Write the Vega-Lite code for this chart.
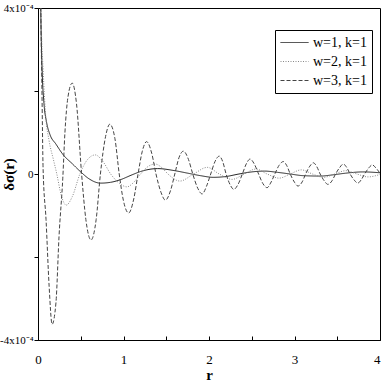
{
  "$schema": "https://vega.github.io/schema/vega-lite/v6.json",
  "width": 342,
  "height": 332,
  "autosize": {"type": "none"},
  "padding": {"left": 38, "top": 8, "right": 2, "bottom": 42},
  "background": "white",
  "config": {
    "view": {"stroke": "black", "strokeWidth": 1},
    "font": "Liberation Serif",
    "axis": {"grid": false, "domainColor": "black", "tickColor": "black", "labelColor": "black", "titleColor": "black", "labelFont": "Liberation Serif", "titleFont": "Liberation Serif"}
  },
  "data": {"values": [
    {"r":0,"v":12e-4,"s":"w=1, k=1"},{"r":0.02,"v":6e-4,"s":"w=1, k=1"},{"r":0.035,"v":3.6e-4,"s":"w=1, k=1"},{"r":0.05,"v":2.4e-4,"s":"w=1, k=1"},{"r":0.07,"v":1.7e-4,"s":"w=1, k=1"},{"r":0.1,"v":1.25e-4,"s":"w=1, k=1"},{"r":0.14,"v":0.95e-4,"s":"w=1, k=1"},{"r":0.21,"v":0.72e-4,"s":"w=1, k=1"},{"r":0.3,"v":0.45e-4,"s":"w=1, k=1"},{"r":0.4,"v":0.25e-4,"s":"w=1, k=1"},{"r":0.5,"v":0.05e-4,"s":"w=1, k=1"},{"r":0.6,"v":-0.12e-4,"s":"w=1, k=1"},{"r":0.73,"v":-0.22e-4,"s":"w=1, k=1"},{"r":0.85,"v":-0.2e-4,"s":"w=1, k=1"},{"r":0.96,"v":-0.14e-4,"s":"w=1, k=1"},{"r":1.1,"v":-0.02e-4,"s":"w=1, k=1"},{"r":1.2,"v":0.06e-4,"s":"w=1, k=1"},{"r":1.4,"v":0.13e-4,"s":"w=1, k=1"},{"r":1.6,"v":0.08e-4,"s":"w=1, k=1"},{"r":1.75,"v":0.02e-4,"s":"w=1, k=1"},{"r":1.9,"v":-0.04e-4,"s":"w=1, k=1"},{"r":2.05,"v":-0.08e-4,"s":"w=1, k=1"},{"r":2.2,"v":-0.06e-4,"s":"w=1, k=1"},{"r":2.35,"v":0,"s":"w=1, k=1"},{"r":2.5,"v":0.05e-4,"s":"w=1, k=1"},{"r":2.65,"v":0.07e-4,"s":"w=1, k=1"},{"r":2.8,"v":0.04e-4,"s":"w=1, k=1"},{"r":2.95,"v":0,"s":"w=1, k=1"},{"r":3.1,"v":-0.04e-4,"s":"w=1, k=1"},{"r":3.3,"v":-0.05e-4,"s":"w=1, k=1"},{"r":3.45,"v":-0.02e-4,"s":"w=1, k=1"},{"r":3.6,"v":0.02e-4,"s":"w=1, k=1"},{"r":3.8,"v":0.05e-4,"s":"w=1, k=1"},{"r":4.0,"v":0.03e-4,"s":"w=1, k=1"},

    {"r":0,"v":12e-4,"s":"w=2, k=1"},{"r":0.02,"v":6e-4,"s":"w=2, k=1"},{"r":0.04,"v":3.5e-4,"s":"w=2, k=1"},{"r":0.06,"v":2.5e-4,"s":"w=2, k=1"},{"r":0.09,"v":1.4e-4,"s":"w=2, k=1"},{"r":0.13,"v":0.8e-4,"s":"w=2, k=1"},{"r":0.18,"v":0.35e-4,"s":"w=2, k=1"},{"r":0.22,"v":0,"s":"w=2, k=1"},{"r":0.27,"v":-0.5e-4,"s":"w=2, k=1"},{"r":0.33,"v":-0.75e-4,"s":"w=2, k=1"},{"r":0.4,"v":-0.55e-4,"s":"w=2, k=1"},{"r":0.49,"v":0,"s":"w=2, k=1"},{"r":0.58,"v":0.35e-4,"s":"w=2, k=1"},{"r":0.67,"v":0.46e-4,"s":"w=2, k=1"},{"r":0.76,"v":0.3e-4,"s":"w=2, k=1"},{"r":0.85,"v":0,"s":"w=2, k=1"},{"r":0.95,"v":-0.22e-4,"s":"w=2, k=1"},{"r":1.04,"v":-0.31e-4,"s":"w=2, k=1"},{"r":1.12,"v":-0.2e-4,"s":"w=2, k=1"},{"r":1.2,"v":0,"s":"w=2, k=1"},{"r":1.28,"v":0.17e-4,"s":"w=2, k=1"},{"r":1.37,"v":0.24e-4,"s":"w=2, k=1"},{"r":1.45,"v":0.15e-4,"s":"w=2, k=1"},{"r":1.52,"v":0,"s":"w=2, k=1"},{"r":1.66,"v":-0.17e-4,"s":"w=2, k=1"},{"r":1.82,"v":0,"s":"w=2, k=1"},{"r":1.98,"v":0.16e-4,"s":"w=2, k=1"},{"r":2.12,"v":0,"s":"w=2, k=1"},{"r":2.27,"v":-0.13e-4,"s":"w=2, k=1"},{"r":2.41,"v":0,"s":"w=2, k=1"},{"r":2.55,"v":0.12e-4,"s":"w=2, k=1"},{"r":2.68,"v":0,"s":"w=2, k=1"},{"r":2.82,"v":-0.1e-4,"s":"w=2, k=1"},{"r":2.95,"v":0,"s":"w=2, k=1"},{"r":3.08,"v":0.1e-4,"s":"w=2, k=1"},{"r":3.21,"v":0,"s":"w=2, k=1"},{"r":3.34,"v":-0.08e-4,"s":"w=2, k=1"},{"r":3.47,"v":0,"s":"w=2, k=1"},{"r":3.6,"v":0.08e-4,"s":"w=2, k=1"},{"r":3.73,"v":0,"s":"w=2, k=1"},{"r":3.86,"v":-0.07e-4,"s":"w=2, k=1"},{"r":4.0,"v":-0.01e-4,"s":"w=2, k=1"},

    {"r":0,"v":14e-4,"s":"w=3, k=1"},{"r":0.02,"v":7e-4,"s":"w=3, k=1"},{"r":0.03,"v":4.5e-4,"s":"w=3, k=1"},{"r":0.045,"v":2.2e-4,"s":"w=3, k=1"},{"r":0.06,"v":0.1e-4,"s":"w=3, k=1"},{"r":0.094,"v":-1.1e-4,"s":"w=3, k=1"},{"r":0.13,"v":-2.7e-4,"s":"w=3, k=1"},{"r":0.165,"v":-3.62e-4,"s":"w=3, k=1"},{"r":0.21,"v":-3.1e-4,"s":"w=3, k=1"},{"r":0.246,"v":-1.5e-4,"s":"w=3, k=1"},{"r":0.29,"v":-0.1e-4,"s":"w=3, k=1"},{"r":0.315,"v":1.0e-4,"s":"w=3, k=1"},{"r":0.35,"v":1.85e-4,"s":"w=3, k=1"},{"r":0.4,"v":2.19e-4,"s":"w=3, k=1"},{"r":0.45,"v":1.7e-4,"s":"w=3, k=1"},{"r":0.51,"v":0,"s":"w=3, k=1"},{"r":0.56,"v":-1.1e-4,"s":"w=3, k=1"},{"r":0.62,"v":-1.59e-4,"s":"w=3, k=1"},{"r":0.68,"v":-1.1e-4,"s":"w=3, k=1"},{"r":0.73,"v":0,"s":"w=3, k=1"},{"r":0.79,"v":0.9e-4,"s":"w=3, k=1"},{"r":0.84,"v":1.2e-4,"s":"w=3, k=1"},{"r":0.9,"v":0.85e-4,"s":"w=3, k=1"},{"r":0.95,"v":0,"s":"w=3, k=1"},{"r":1.0,"v":-0.65e-4,"s":"w=3, k=1"},{"r":1.06,"v":-0.94e-4,"s":"w=3, k=1"},{"r":1.12,"v":-0.6e-4,"s":"w=3, k=1"},{"r":1.17,"v":0,"s":"w=3, k=1"},{"r":1.22,"v":0.55e-4,"s":"w=3, k=1"},{"r":1.27,"v":0.78e-4,"s":"w=3, k=1"},{"r":1.33,"v":0.5e-4,"s":"w=3, k=1"},{"r":1.38,"v":0,"s":"w=3, k=1"},{"r":1.44,"v":-0.45e-4,"s":"w=3, k=1"},{"r":1.49,"v":-0.63e-4,"s":"w=3, k=1"},{"r":1.55,"v":-0.4e-4,"s":"w=3, k=1"},{"r":1.6,"v":0,"s":"w=3, k=1"},{"r":1.65,"v":0.4e-4,"s":"w=3, k=1"},{"r":1.7,"v":0.55e-4,"s":"w=3, k=1"},{"r":1.76,"v":0.35e-4,"s":"w=3, k=1"},{"r":1.81,"v":0,"s":"w=3, k=1"},{"r":1.87,"v":-0.35e-4,"s":"w=3, k=1"},{"r":1.92,"v":-0.48e-4,"s":"w=3, k=1"},{"r":1.97,"v":-0.3e-4,"s":"w=3, k=1"},{"r":2.02,"v":0,"s":"w=3, k=1"},{"r":2.07,"v":0.3e-4,"s":"w=3, k=1"},{"r":2.12,"v":0.43e-4,"s":"w=3, k=1"},{"r":2.16,"v":0.3e-4,"s":"w=3, k=1"},{"r":2.2,"v":0,"s":"w=3, k=1"},{"r":2.25,"v":-0.27e-4,"s":"w=3, k=1"},{"r":2.29,"v":-0.37e-4,"s":"w=3, k=1"},{"r":2.34,"v":-0.25e-4,"s":"w=3, k=1"},{"r":2.39,"v":0,"s":"w=3, k=1"},{"r":2.44,"v":0.26e-4,"s":"w=3, k=1"},{"r":2.48,"v":0.36e-4,"s":"w=3, k=1"},{"r":2.53,"v":0.24e-4,"s":"w=3, k=1"},{"r":2.58,"v":0,"s":"w=3, k=1"},{"r":2.63,"v":-0.23e-4,"s":"w=3, k=1"},{"r":2.68,"v":-0.33e-4,"s":"w=3, k=1"},{"r":2.72,"v":-0.22e-4,"s":"w=3, k=1"},{"r":2.77,"v":0,"s":"w=3, k=1"},{"r":2.82,"v":0.21e-4,"s":"w=3, k=1"},{"r":2.87,"v":0.3e-4,"s":"w=3, k=1"},{"r":2.91,"v":0.2e-4,"s":"w=3, k=1"},{"r":2.95,"v":0,"s":"w=3, k=1"},{"r":3.0,"v":-0.2e-4,"s":"w=3, k=1"},{"r":3.04,"v":-0.29e-4,"s":"w=3, k=1"},{"r":3.09,"v":-0.19e-4,"s":"w=3, k=1"},{"r":3.13,"v":0,"s":"w=3, k=1"},{"r":3.18,"v":0.19e-4,"s":"w=3, k=1"},{"r":3.22,"v":0.27e-4,"s":"w=3, k=1"},{"r":3.26,"v":0.18e-4,"s":"w=3, k=1"},{"r":3.3,"v":0,"s":"w=3, k=1"},{"r":3.35,"v":-0.17e-4,"s":"w=3, k=1"},{"r":3.39,"v":-0.25e-4,"s":"w=3, k=1"},{"r":3.44,"v":-0.16e-4,"s":"w=3, k=1"},{"r":3.48,"v":0,"s":"w=3, k=1"},{"r":3.53,"v":0.16e-4,"s":"w=3, k=1"},{"r":3.57,"v":0.24e-4,"s":"w=3, k=1"},{"r":3.61,"v":0.16e-4,"s":"w=3, k=1"},{"r":3.65,"v":0,"s":"w=3, k=1"},{"r":3.7,"v":-0.15e-4,"s":"w=3, k=1"},{"r":3.74,"v":-0.22e-4,"s":"w=3, k=1"},{"r":3.78,"v":-0.14e-4,"s":"w=3, k=1"},{"r":3.82,"v":0,"s":"w=3, k=1"},{"r":3.87,"v":0.15e-4,"s":"w=3, k=1"},{"r":3.91,"v":0.22e-4,"s":"w=3, k=1"},{"r":3.95,"v":0.15e-4,"s":"w=3, k=1"},{"r":4.0,"v":0.02e-4,"s":"w=3, k=1"}
  ]},
  "mark": {"type": "line", "clip": true, "interpolate": "monotone", "strokeWidth": 1},
  "encoding": {
    "x": {"field": "r", "type": "quantitative", "scale": {"domain": [0, 4], "nice": false},
      "axis": {"title": "r", "titleFontSize": 15, "titleFontWeight": "bold", "titleY": 39, "titleBaseline": "alphabetic", "values": [0,0.5,1,1.5,2,2.5,3,3.5,4], "labelExpr": "datum.value % 1 === 0 ? format(datum.value, 'd') : ''", "labelFontSize": 13, "tickSize": -4, "labelPadding": 17, "labelFlush": false, "labelAlign": {"condition": {"test": "datum.value === 4", "value": "right"}, "value": "center"}}},
    "y": {"field": "v", "type": "quantitative", "scale": {"domain": [-0.0004, 0.0004], "nice": false, "zero": false},
      "axis": {"title": "δσ(r)", "titleFontSize": 15, "titleFontWeight": "bold", "titleX": -30, "titleY": 166, "titleAlign": "center", "titleBaseline": "middle", "titleAngle": -90, "values": [-0.0004,-0.0002,0,0.0002,0.0004], "labelExpr": "datum.value === 0 ? '0' : (datum.value > 0.0003 ? '4x10⁻⁴' : (datum.value < -0.0003 ? '-4x10⁻⁴' : ''))", "labelFontSize": 11, "tickSize": 4, "labelPadding": 1, "labelFlush": false}},
    "color": {"field": "s", "type": "nominal", "scale": {"domain": ["w=1, k=1","w=2, k=1","w=3, k=1"], "range": ["#222222","#888888","#444444"]},
      "legend": {"title": null, "orient": "none", "legendX": 237, "legendY": 22, "strokeColor": "black", "fillColor": "white", "padding": 5, "labelFont": "Liberation Serif", "labelFontSize": 14, "labelColor": "black", "symbolType": "M-1,0H3", "symbolSize": 196, "symbolStrokeWidth": 1, "rowPadding": 4, "labelOffset": 18}},
    "strokeDash": {"field": "s", "type": "nominal", "scale": {"domain": ["w=1, k=1","w=2, k=1","w=3, k=1"], "range": [[1,0],[1,1.5],[4,2]]}, "legend": null}
  }
}
